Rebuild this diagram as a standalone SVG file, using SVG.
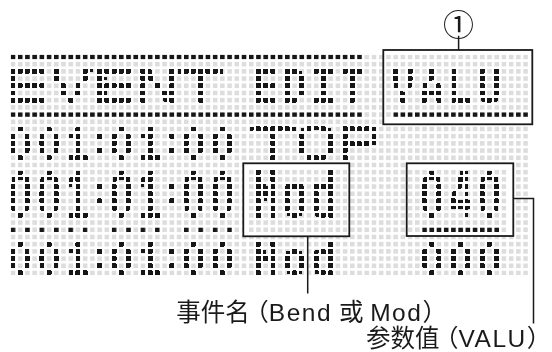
<svg xmlns="http://www.w3.org/2000/svg" width="552" height="352" viewBox="0 0 552 352">
<defs>
<pattern id="g" patternUnits="userSpaceOnUse" x="10.7" y="54.7" width="7.22" height="7.2"><rect width="4.6" height="4.6" fill="#dddddd"/></pattern>
<pattern id="k" patternUnits="userSpaceOnUse" x="10.7" y="54.7" width="7.22" height="7.2"><rect width="4.6" height="4.6" fill="#161616"/></pattern>
<pattern id="k2" patternUnits="userSpaceOnUse" x="10.7" y="54.7" width="14.44" height="7.2"><rect width="4.6" height="4.6" fill="#161616"/></pattern>
<pattern id="s" patternUnits="userSpaceOnUse" x="11.5" y="55.5" width="7.22" height="7.2"><rect width="3" height="3" fill="#000"/></pattern>
<pattern id="s18" href="#s" patternTransform="scale(0.555556 1)"/>
<pattern id="s095" href="#s" patternTransform="scale(1.052632 1)"/>
<pattern id="s086" href="#s" patternTransform="scale(1.162791 1)"/>
<pattern id="s059" href="#s" patternTransform="scale(1.694915 1)"/>
<pattern id="s0645" href="#s" patternTransform="scale(1.550388 1)"/>
<filter id="dot" filterUnits="userSpaceOnUse" x="0" y="0" width="552" height="352" color-interpolation-filters="sRGB">
<feMorphology in="SourceAlpha" operator="dilate" radius="1" result="d"/>
<feComponentTransfer in="d" result="t"><feFuncA type="discrete" tableValues="0 1"/></feComponentTransfer>
<feFlood flood-color="#161616"/>
<feComposite in2="t" operator="in"/>
</filter>
</defs>
<style>
.t5{font-family:'DejaVu Sans Mono',monospace;font-size:43.6px;font-weight:400;text-anchor:middle;fill:url(#s18)}
.t3{font-family:'DejaVu Sans Mono',monospace;font-size:43.6px;font-weight:700;text-anchor:middle;fill:url(#s095)}
.t7{font-family:'DejaVu Sans Mono',monospace;font-size:63.4px;font-weight:700;text-anchor:middle;fill:url(#s0645)}
.d5{font-family:'Liberation Sans',sans-serif;font-size:44.4px;font-weight:700;text-anchor:middle;fill:url(#s086)}
.d7{font-family:'Liberation Sans',sans-serif;font-size:64.5px;font-weight:700;text-anchor:middle;fill:url(#s059)}
.c{font-size:38px}
.box{fill:#fff;stroke:#1a1a1a;stroke-width:1.8}
.wire{fill:none;stroke:#1a1a1a;stroke-width:1.5}
.lbl{font-family:'Liberation Sans','Noto Sans CJK SC',sans-serif;font-size:24.5px;fill:#1a1a1a;font-feature-settings:'halt'}
.lat{letter-spacing:1.5px}
</style>
<rect width="552" height="352" fill="#fff"/>
<g id="lcd">
<rect x="10.7" y="54.7" width="517.2" height="220.6" fill="url(#g)"/>
<rect x="10.7" y="54.7" width="351.2" height="4.6" fill="url(#k)"/>
<rect x="10.7" y="112.3" width="351.2" height="4.6" fill="url(#k)"/>
<rect x="10.7" y="227.5" width="76.8" height="4.6" fill="url(#k2)"/>
<rect x="111.78" y="227.5" width="47.92" height="4.6" fill="url(#k2)"/>
<rect x="183.98" y="227.5" width="47.92" height="4.6" fill="url(#k2)"/>
<g filter="url(#dot)">
<text class="t5" transform="scale(1.8 1)" x="15.244 39.311 63.378 87.444 111.511" y="101.7">EVENT</text>
<text class="t3" transform="scale(0.95 1)" x="279.684 310.084 340.484 370.884" y="101.7">EDIT</text>
<text class="d5" transform="scale(0.86 1)" y="159.3"><tspan x="23.512 57.093 90.674">001</tspan><tspan class="c" x="115.86" dy="-6">:</tspan><tspan x="141.047 174.628" dy="6">01</tspan><tspan class="c" x="199.814" dy="-6">:</tspan><tspan x="225 258.581" dy="6">00</tspan></text>
<text class="t5" transform="scale(1.8 1)" x="151.622 175.689 199.756" y="159.3">TOP</text>
<text class="d7" transform="scale(0.59 1)" y="216.9"><tspan x="34.271 83.22 132.169">001</tspan><tspan class="c" x="168.881" dy="-13.24">:</tspan><tspan x="205.593 254.542" dy="13.24">01</tspan><tspan class="c" x="291.254" dy="-13.24">:</tspan><tspan x="327.966 376.915" dy="13.24">00</tspan></text>
<text class="d5" transform="scale(0.86 1)" y="274.5"><tspan x="23.512 57.093 90.674">001</tspan><tspan class="c" x="115.86" dy="-6">:</tspan><tspan x="141.047 174.628" dy="6">01</tspan><tspan class="c" x="199.814" dy="-6">:</tspan><tspan x="225 258.581" dy="6">00</tspan></text>
<text class="t3" transform="scale(0.95 1)" x="279.684 310.084 340.484" y="274.5">Mod</text>
<text class="d5" transform="scale(0.86 1)" x="502.047 535.628 569.209" y="274.5">000</text>
</g>
</g>
<g id="box-valu">
<rect class="box" x="383.3" y="50" width="149" height="74.3"/>
<rect x="386.14" y="54.7" width="141.78" height="62.2" fill="url(#g)"/>
<rect x="393.36" y="112.3" width="134.56" height="4.6" fill="url(#k)"/>
<g filter="url(#dot)"><text class="t3" transform="scale(0.95 1)" x="424.084 454.484 484.884 515.284" y="101.7">VALU</text></g>
</g>
<g id="box-mod">
<rect class="box" x="243.3" y="163.3" width="106" height="73"/>
<rect x="248.96" y="169.9" width="98.46" height="62.2" fill="url(#g)"/>
<g filter="url(#dot)"><text class="t7" transform="scale(0.645 1)" x="411.938 456.713 501.488" y="216.9">Mod</text></g>
</g>
<g id="box-value">
<rect class="box" x="406.7" y="163.3" width="106.6" height="72.7"/>
<rect x="407.8" y="169.9" width="98.46" height="62.2" fill="url(#g)"/>
<rect x="422.24" y="227.5" width="76.8" height="4.6" fill="url(#k)"/>
<g filter="url(#dot)"><text class="d7" transform="scale(0.59 1)" x="731.797 780.746 829.695" y="216.9">040</text></g>
</g>
<g id="connectors" class="wire">
<line x1="458.6" y1="35.8" x2="458.6" y2="50"/>
<line x1="307.7" y1="236.3" x2="307.7" y2="293.5"/>
<polyline points="513.3,198.5 533.5,198.5 533.5,323.5"/>
</g>
<g id="marker-1"><text x="458.6" y="36.1" text-anchor="middle" font-family="'Noto Sans CJK SC',sans-serif" font-size="31" fill="#1a1a1a">①</text></g>
<g id="label-event"><text class="lbl" x="176.3" y="320.5">事件名 （<tspan class="lat">Bend</tspan> 或 <tspan class="lat">Mod</tspan>）</text></g>
<g id="label-value"><text class="lbl" x="366" y="346.5">参数值 （<tspan class="lat">VALU</tspan>）</text></g>
</svg>
